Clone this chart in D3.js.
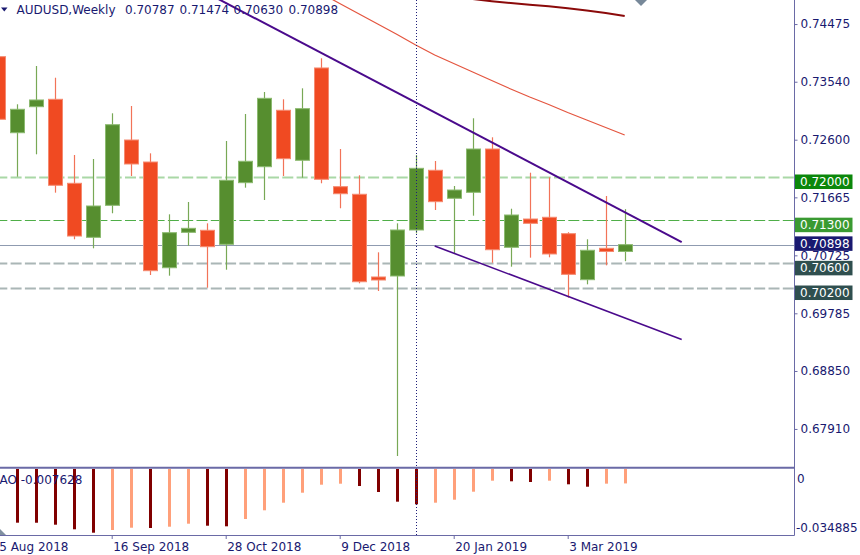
<!DOCTYPE html>
<html><head><meta charset="utf-8">
<script src="https://cdn.jsdelivr.net/npm/d3@7"></script>
<style>
html,body{margin:0;padding:0;background:#fff;overflow:hidden;}
svg{display:block;font-family:"DejaVu Sans",sans-serif;}
</style></head><body>
<svg id="chart" width="860" height="555"></svg>
<script>
// ---------- DATA ----------
const weeks = ["2018-08-05","2018-08-12","2018-08-19","2018-08-26","2018-09-02","2018-09-09","2018-09-16","2018-09-23","2018-09-30","2018-10-07","2018-10-14","2018-10-21","2018-10-28","2018-11-04","2018-11-11","2018-11-18","2018-11-25","2018-12-02","2018-12-09","2018-12-16","2018-12-23","2018-12-30","2019-01-06","2019-01-13","2019-01-20","2019-01-27","2019-02-03","2019-02-10","2019-02-17","2019-02-24","2019-03-03","2019-03-10","2019-03-17","2019-03-24"];
const opens  = [0.73946,0.72713,0.73135,0.73255,0.71893,0.71017,0.71536,0.72595,0.72238,0.70524,0.71098,0.71131,0.70904,0.71903,0.72162,0.73077,0.72266,0.73763,0.71838,0.71715,0.70374,0.70390,0.71136,0.72104,0.71650,0.71747,0.72449,0.70855,0.71314,0.71342,0.71076,0.70330,0.70839,0.70787];
const highs  = [0.74010,0.73174,0.73795,0.73605,0.72352,0.72287,0.73028,0.73146,0.72379,0.71390,0.71590,0.71244,0.72579,0.73017,0.73373,0.73255,0.73433,0.73920,0.72449,0.72023,0.70774,0.71244,0.72352,0.72255,0.71849,0.72947,0.72639,0.71481,0.72065,0.71990,0.71100,0.70985,0.71687,0.71474];
const lows   = [0.72850,0.72000,0.72363,0.71741,0.70985,0.70839,0.71407,0.72011,0.70406,0.70395,0.70881,0.70200,0.70492,0.71822,0.71622,0.72011,0.71984,0.71893,0.71488,0.70271,0.70147,0.67471,0.71082,0.71460,0.70758,0.71368,0.70605,0.70541,0.70687,0.70693,0.70038,0.70255,0.70563,0.70630];
const closes = [0.72931,0.73093,0.73244,0.71861,0.71038,0.71525,0.72843,0.72206,0.70476,0.71092,0.71163,0.70865,0.71942,0.72250,0.73271,0.72292,0.73103,0.71958,0.71724,0.70297,0.70325,0.71136,0.72136,0.71595,0.71784,0.72449,0.70816,0.71379,0.71244,0.70747,0.70417,0.70807,0.70787,0.70898];
const aoValues = [-0.02800,-0.02838,-0.02840,-0.02944,-0.03187,-0.03367,-0.03224,-0.03103,-0.03118,-0.03050,-0.02891,-0.02997,-0.03029,-0.02643,-0.02183,-0.01781,-0.01253,-0.00830,-0.00777,-0.00899,-0.01216,-0.01728,-0.01866,-0.01781,-0.01623,-0.01200,-0.00618,-0.00650,-0.00687,-0.00618,-0.00809,-0.00936,-0.00775,-0.007628];
// moving averages
const maRedWeeks = ["2018-11-25","2018-12-02","2018-12-09","2018-12-16","2018-12-23","2018-12-30","2019-01-06","2019-01-13","2019-01-20","2019-01-27","2019-02-03","2019-02-10","2019-02-17","2019-02-24","2019-03-03","2019-03-10","2019-03-17","2019-03-24"];
const maRedValues = [0.75141,0.74976,0.74809,0.74643,0.74476,0.74309,0.74136,0.73973,0.73836,0.73698,0.73560,0.73422,0.73292,0.73171,0.73041,0.72919,0.72798,0.72676];
const maDarkWeeks = ["2019-01-27","2019-02-03","2019-02-10","2019-02-17","2019-02-24","2019-03-03","2019-03-10","2019-03-17","2019-03-24"];
const maDarkValues = [0.74881,0.74846,0.74817,0.74789,0.74763,0.74731,0.74695,0.74654,0.74606];
// trend lines (channel)
const upperLineDates = ["2018-10-21","2019-04-14"];
const upperLinePrices = [0.74980,0.70941];
const lowerLineDates = ["2019-01-13","2019-04-14"];
const lowerLinePrices = [0.70876,0.69362];
// horizontal levels
const levelPrices = [0.72000,0.71300,0.70600,0.70200];
const levelLabels = ["0.72000","0.71300","0.70600","0.70200"];
const currentPrice = 0.70898;
const priceTicks = [0.74475,0.73540,0.72600,0.71665,0.70725,0.69785,0.68850,0.67910];
const dateTicks = ["2018-08-05","2018-09-16","2018-10-28","2018-12-09","2019-01-20","2019-03-03"];
const dateTickLabels = ["5 Aug 2018","16 Sep 2018","28 Oct 2018","9 Dec 2018","20 Jan 2019","3 Mar 2019"];
const aoTickLabels = ["0","-0.034885"];
const aoRange = [0,-0.034885];
const markerDate = "2019-03-30";
const separatorDate = "2019-01-06";
const headerTitle = "AUDUSD,Weekly";
const headerValues = ["0.70787","0.71474","0.70630","0.70898"];
const aoTitle = "AO -0.007628";

// ---------- SETUP ----------
const parse = d3.timeParse("%Y-%m-%d");
const W = 860, H = 555;
const axisX = 794.5;
const mainTop = 0, mainBottom = 467;
const aoTop = 469, aoBottom = 535;
const navy = "#191970";

const svg = d3.select("#chart");
svg.append("rect").attr("width",W).attr("height",H).attr("fill","#fff");

const x = d3.scaleTime()
  .domain([parse(weeks[0]), parse(weeks[weeks.length-1])])
  .range([-2.3, 624.7]);
const y = d3.scaleLinear().domain([0.74865, 0.67293]).range([mainTop, mainBottom]);
const yAO = d3.scaleLinear().domain(aoRange).range([aoTop, aoBottom]);

const candles = weeks.map((w,i)=>({date:parse(w),o:opens[i],h:highs[i],l:lows[i],c:closes[i]}));

const defs = svg.append("defs");
defs.append("clipPath").attr("id","clipMain").append("rect")
  .attr("x",0).attr("y",mainTop).attr("width",axisX).attr("height",mainBottom-mainTop);
defs.append("clipPath").attr("id","clipAO").append("rect")
  .attr("x",0).attr("y",468).attr("width",axisX).attr("height",aoBottom-468);

const main = svg.append("g").attr("clip-path","url(#clipMain)");

// horizontal levels
const levelStyle = [
  {stroke:"#a9d8a6", w:2},
  {stroke:"#4fae48", w:1},
  {stroke:"#aab6b6", w:2},
  {stroke:"#aab6b6", w:2}
];
main.selectAll("line.level").data(levelPrices).join("line")
  .attr("class","level")
  .attr("x1",0).attr("x2",axisX)
  .attr("y1",d=>Math.round(y(d))+0.5).attr("y2",d=>Math.round(y(d))+0.5)
  .attr("stroke",(d,i)=>levelStyle[i].stroke)
  .attr("stroke-width",(d,i)=>levelStyle[i].w)
  .attr("stroke-dasharray","11,3.3")
  .attr("stroke-dashoffset",3.7);
main.append("line")
  .attr("x1",0).attr("x2",axisX)
  .attr("y1",Math.round(y(currentPrice))+0.5).attr("y2",Math.round(y(currentPrice))+0.5)
  .attr("stroke","#8f9bb0").attr("stroke-width",1);

// moving averages
const line = d3.line().x(d=>x(d[0])).y(d=>y(d[1]));
main.append("path")
  .datum(maRedWeeks.map((w,i)=>[parse(w),maRedValues[i]]))
  .attr("d",line).attr("fill","none").attr("stroke","#e4553f").attr("stroke-width",1.2);
main.append("path")
  .datum(maDarkWeeks.map((w,i)=>[parse(w),maDarkValues[i]]))
  .attr("d",line).attr("fill","none").attr("stroke","#8b0a0a").attr("stroke-width",2);

// candles
const bull = {fill:"#568e2f", stroke:"#8cba70", wick:"#78a856"};
const bear = {fill:"#f04a22", stroke:"#f58a70", wick:"#f27358"};
const cg = main.append("g");
cg.selectAll("line.wick").data(candles).join("line")
  .attr("class","wick")
  .attr("x1",d=>Math.round(x(d.date))+0.5).attr("x2",d=>Math.round(x(d.date))+0.5)
  .attr("y1",d=>y(d.h)).attr("y2",d=>y(d.l))
  .attr("stroke",d=>d.c>=d.o?bull.wick:bear.wick).attr("stroke-width",1.2);
cg.selectAll("rect.body").data(candles).join("rect")
  .attr("class","body")
  .attr("x",d=>Math.round(x(d.date))-6.5)
  .attr("width",14)
  .attr("y",d=>y(Math.max(d.o,d.c)))
  .attr("height",d=>Math.max(2,Math.abs(y(d.o)-y(d.c))))
  .attr("fill",d=>d.c>=d.o?bull.fill:bear.fill)
  .attr("stroke",d=>d.c>=d.o?bull.stroke:bear.stroke)
  .attr("stroke-width",1);

// trend lines
main.append("path")
  .datum(upperLineDates.map((w,i)=>[parse(w),upperLinePrices[i]]))
  .attr("d",line).attr("fill","none").attr("stroke","#4a0a8c").attr("stroke-width",2);
main.append("path")
  .datum(lowerLineDates.map((w,i)=>[parse(w),lowerLinePrices[i]]))
  .attr("d",line).attr("fill","none").attr("stroke","#4a0a8c").attr("stroke-width",1.6);

// diamond marker at top
const mx = x(parse(markerDate));
main.append("path")
  .attr("d",`M${mx-7},${-1} L${mx},${-8} L${mx+7},${-1} L${mx},${6} Z`)
  .attr("fill","#778899");

// AO histogram
const ao = svg.append("g").attr("clip-path","url(#clipAO)");
ao.selectAll("rect").data(aoValues).join("rect")
  .attr("x",(d,i)=>Math.round(x(parse(weeks[i])))-1)
  .attr("width",3)
  .attr("y",yAO(0))
  .attr("height",d=>yAO(d)-yAO(0))
  .attr("fill",(d,i)=> (i>0 && d<aoValues[i-1]) ? "#800000" : (i===0 ? "#800000" : "#ffa07a"));

// separator dotted vertical line
const sx = Math.round(x(parse(separatorDate)))+0.5;
svg.append("line").attr("x1",sx).attr("x2",sx).attr("y1",0).attr("y2",aoBottom)
  .attr("stroke","#1e1e78").attr("stroke-width",1).attr("stroke-dasharray","1,2");

// panel frame
svg.append("line").attr("x1",0).attr("x2",axisX).attr("y1",467.7).attr("y2",467.7)
  .attr("stroke","#6a6aa6").attr("stroke-width",2);
svg.append("line").attr("x1",0).attr("x2",axisX).attr("y1",535.5).attr("y2",535.5)
  .attr("stroke","#6a6aa6").attr("stroke-width",1);
svg.append("line").attr("x1",axisX).attr("x2",axisX).attr("y1",0).attr("y2",535.5)
  .attr("stroke","#6a6aa6").attr("stroke-width",1);

// chart shift triangle bottom-left
svg.append("path").attr("d","M0,529 L6,535 L0,535 Z").attr("fill","#8090a0");

// header
svg.append("path").attr("d","M1,7.5 L7.5,7.5 L4.25,11.5 Z").attr("fill",navy);
svg.append("text").attr("x",16.5).attr("y",14.3).attr("fill",navy).attr("font-size",12)
  .text(headerTitle);
const hvx = [125,179.5,233.5,288.5];
svg.selectAll("text.hv").data(headerValues).join("text").attr("class","hv")
  .attr("x",(d,i)=>hvx[i]).attr("y",14.3).attr("fill",navy).attr("font-size",12).text(d=>d);

// AO title
svg.append("text").attr("x",-0.5).attr("y",484.3).attr("fill",navy).attr("font-size",12).text(aoTitle);

// right price axis
const yAxis = d3.axisRight(y).tickValues(priceTicks).tickSize(3).tickPadding(3)
  .tickFormat(d3.format(".5f"));
const gy = svg.append("g").attr("transform",`translate(${axisX},0)`).call(yAxis);
gy.select(".domain").remove();
gy.selectAll(".tick line").attr("stroke","#6a6aa6");
gy.selectAll(".tick text").attr("fill",navy).attr("font-size",12)
  .attr("font-family","DejaVu Sans, sans-serif");

// AO axis labels
const aoLabelY = [478.3, 527.3];
svg.selectAll("text.aol").data(aoTickLabels).join("text").attr("class","aol")
  .attr("x",(d,i)=> i===0?797:796).attr("y",(d,i)=>aoLabelY[i]).attr("dy","0.35em")
  .attr("fill",navy).attr("font-size",12).text(d=>d);

// bottom date axis
const xAxis = d3.axisBottom(x).tickValues(dateTicks.map(parse)).tickSize(4).tickPadding(3.5)
  .tickFormat((d,i)=>dateTickLabels[i]);
const gx = svg.append("g").attr("transform",`translate(0,${aoBottom})`).call(xAxis);
gx.select(".domain").remove();
gx.selectAll(".tick line").attr("stroke","#6a6aa6");
gx.selectAll(".tick text").attr("fill",navy).attr("font-size",12)
  .attr("font-family","DejaVu Sans, sans-serif")
  .attr("text-anchor","start").attr("x",1);

// price label boxes
const boxColors = ["#0b870b","#3a9a32","#2f4f4f","#2f4f4f"];
const boxes = levelPrices.map((p,i)=>({p, label:levelLabels[i], color:boxColors[i], top:y(p)-2.2}));
boxes.push({p:currentPrice, label:d3.format(".5f")(currentPrice), color:"#191970", top:y(currentPrice)-8.3});
const bg = svg.append("g");
bg.selectAll("rect").data(boxes).join("rect")
  .attr("x",axisX+0.5).attr("width",57.5).attr("y",d=>d.top).attr("height",14.5)
  .attr("fill",d=>d.color);
bg.selectAll("text").data(boxes).join("text")
  .attr("x",axisX+5.5).attr("y",d=>d.top+7.25).attr("dy","0.36em")
  .attr("fill","#fff").attr("font-size",12).text(d=>d.label);
</script>
</body></html>
